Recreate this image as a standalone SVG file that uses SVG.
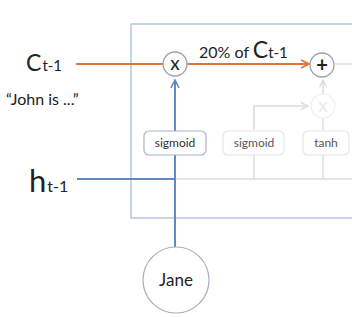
<svg xmlns="http://www.w3.org/2000/svg" width="352" height="317" viewBox="0 0 352 317">
<defs>
<style>
text{font-family:Lato,"Open Sans",sans-serif;}
.lbl{fill:#222;}
.sub{font-size:15px;}
.gate{fill:#fff;stroke:#a5b4cc;stroke-width:1.2;}
.gatef{fill:#fff;stroke:#e6e6e6;stroke-width:1.2;}
.gt{font-size:12px;text-anchor:middle;fill:#333;}
.gtf{font-size:12px;text-anchor:middle;fill:#555;}
.op{fill:#fff;stroke:#9aa3b0;stroke-width:1.3;}
.gray{stroke:#dcdcdc;stroke-width:1.5;fill:none;}
.blue{stroke:#5f8bc2;stroke-width:2;fill:none;}
.orange{stroke:#e0743a;stroke-width:2;fill:none;}
</style>
<marker id="ao" viewBox="0 0 10 10" refX="9" refY="5" markerWidth="5" markerHeight="5" orient="auto" markerUnits="strokeWidth"><path d="M1,1 L9,5 L1,9" fill="none" stroke="#e0743a" stroke-width="1.6"/></marker>
<marker id="ab" viewBox="0 0 10 10" refX="9" refY="5" markerWidth="5" markerHeight="5" orient="auto" markerUnits="strokeWidth"><path d="M1,1 L9,5 L1,9" fill="none" stroke="#5f8bc2" stroke-width="1.6"/></marker>
<marker id="ag" viewBox="0 0 10 10" refX="9" refY="5" markerWidth="6" markerHeight="6" orient="auto" markerUnits="strokeWidth"><path d="M1,1 L9,5 L1,9" fill="none" stroke="#dcdcdc" stroke-width="1.6"/></marker>
</defs>
<rect x="0" y="0" width="352" height="317" fill="#fff"/>
<rect id="cell" x="131" y="24" width="240" height="194" fill="none" stroke="#a9b8d3" stroke-width="1.2"/>
<g id="connectors">
<line class="gray" x1="335" y1="64" x2="352" y2="64"/>
<line class="gray" x1="175" y1="179" x2="352" y2="179"/>
<line class="gray" x1="254" y1="179" x2="254" y2="155"/>
<line class="gray" x1="323" y1="179" x2="323" y2="155"/>
<polyline class="gray" points="254,130 254,106 308,106" marker-end="url(#ag)"/>
<line class="gray" x1="323" y1="130" x2="323" y2="119"/>
<line class="gray" x1="323" y1="94" x2="323" y2="80" marker-end="url(#ag)"/>
<line class="orange" x1="76" y1="64" x2="163" y2="64"/>
<line class="orange" x1="187" y1="64" x2="309" y2="64" marker-end="url(#ao)"/>
<line class="blue" x1="77" y1="179" x2="175" y2="179"/>
<line class="blue" x1="175" y1="247" x2="175" y2="80" marker-end="url(#ab)"/>
</g>
<g id="mult1"><circle class="op" cx="175" cy="64" r="12"/><text x="175" y="70" font-size="19" text-anchor="middle" class="lbl">x</text></g>
<g id="plus"><circle class="op" cx="322" cy="65" r="12"/><text x="322" y="72" font-size="20" font-weight="bold" text-anchor="middle" class="lbl">+</text></g>
<g id="mult2"><circle cx="323" cy="106" r="12" fill="#fff" stroke="#f0f0f0" stroke-width="1.2"/><text x="323" y="112" font-size="19" text-anchor="middle" fill="#eaeaea">x</text></g>
<g id="sigmoid1"><rect class="gate" x="144" y="131" width="62" height="24" rx="5"/><text class="gt" x="175" y="147">sigmoid</text></g>
<g id="sigmoid2"><rect class="gatef" x="223" y="131" width="61" height="24" rx="5"/><text class="gtf" x="254" y="147">sigmoid</text></g>
<g id="tanh"><rect class="gatef" x="303" y="131" width="46" height="24" rx="5"/><text class="gtf" x="326" y="147">tanh</text></g>
<g id="jane"><circle cx="176" cy="280" r="33" fill="#fff" stroke="#a9b0bc" stroke-width="1.2"/><text x="176" y="286" font-size="17" text-anchor="middle" class="lbl">Jane</text></g>
<g id="labels">
<text class="lbl" x="26" y="71"><tspan font-size="23">C</tspan><tspan class="sub" dx="1">t-1</tspan></text>
<text class="lbl" x="6" y="105" font-size="16">“John is ...”</text>
<text class="lbl" x="29" y="192"><tspan font-size="31">h</tspan><tspan font-size="16" dx="1">t-1</tspan></text>
<text class="lbl" x="199" y="58"><tspan font-size="16">20% of </tspan><tspan font-size="23">C</tspan><tspan class="sub">t-1</tspan></text>
</g>
</svg>
